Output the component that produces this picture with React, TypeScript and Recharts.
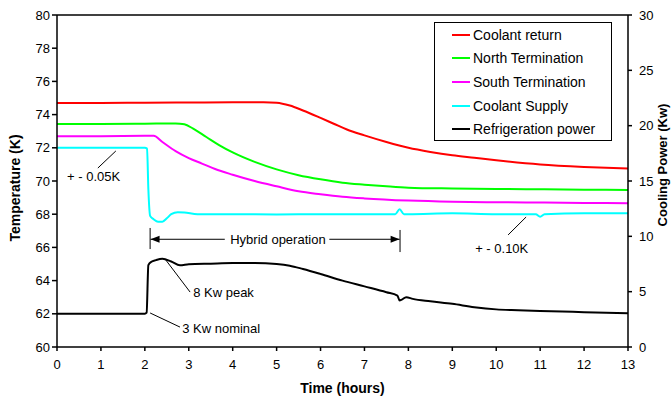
import React from 'react';
import {
  ComposedChart, Line, XAxis, YAxis, Legend, ReferenceLine, ReferenceDot
} from 'recharts';

const FONT = '"Liberation Sans", Arial, Helvetica, sans-serif';

// time axis (hours)
const hourTicks = [0, 1, 2, 3, 4, 5, 6, 7, 8, 9, 10, 11, 12, 13];
const tempTicks = [60, 62, 64, 66, 68, 70, 72, 74, 76, 78, 80];
const powerTicks = [0, 5, 10, 15, 20, 25, 30];

// Coolant return (K)
const returnTime = [0, 1, 2, 3, 4, 4.7, 5.0, 5.3, 5.6, 6.0, 6.3, 6.6, 7.0, 7.5, 8, 8.5, 9, 9.5, 10, 11, 12, 13];
const returnTemp = [74.7, 74.7, 74.72, 74.73, 74.74, 74.75, 74.72, 74.55, 74.25, 73.8, 73.45, 73.1, 72.75, 72.35, 72.0, 71.75, 71.55, 71.4, 71.25, 71.0, 70.85, 70.75];

// North termination (K)
const northTime = [0, 1, 2, 2.7, 2.9, 3.1, 3.4, 3.7, 4.0, 4.5, 5.0, 5.5, 6.0, 6.5, 7.0, 7.5, 8.0, 9, 10, 11, 12, 13];
const northTemp = [73.43, 73.43, 73.45, 73.47, 73.42, 73.15, 72.65, 72.15, 71.72, 71.15, 70.7, 70.35, 70.1, 69.9, 69.78, 69.68, 69.6, 69.55, 69.52, 69.5, 69.48, 69.46];

// South termination (K)
const southTime = [0, 1, 2, 2.2, 2.4, 2.7, 3.0, 3.3, 3.6, 4.0, 4.5, 5.0, 5.5, 6.0, 6.5, 7, 8, 9, 10, 11, 12, 13];
const southTemp = [72.7, 72.7, 72.72, 72.72, 72.35, 71.8, 71.38, 71.05, 70.72, 70.38, 70.0, 69.68, 69.38, 69.2, 69.05, 68.95, 68.82, 68.75, 68.72, 68.7, 68.68, 68.66];

// Coolant supply (K)
const supplyTime = [0, 1, 2.0, 2.05, 2.08, 2.12, 2.2, 2.3, 2.4, 2.5, 2.6, 2.75, 2.9, 3.2, 4, 5, 6, 7, 7.7, 7.8, 7.9, 8.0, 9, 10, 10.9, 11.0, 11.1, 12, 13];
const supplyTemp = [72.0, 72.0, 72.0, 71.95, 69.5, 67.9, 67.7, 67.55, 67.55, 67.75, 68.0, 68.12, 68.1, 68.0, 68.0, 67.98, 68.0, 68.0, 68.0, 68.3, 68.0, 68.0, 68.05, 68.0, 68.0, 67.85, 68.0, 68.05, 68.05];

// Refrigeration power (Kw)
const powerTime = [0, 1, 2.0, 2.04, 2.08, 2.15, 2.25, 2.4, 2.6, 2.8, 3.0, 3.5, 4, 4.5, 5.0, 5.3, 5.6, 6.0, 6.5, 7.0, 7.5, 7.75, 7.8, 7.85, 7.95, 8.1, 8.5, 9, 9.5, 10, 10.5, 11, 11.5, 12, 12.5, 13];
const powerKw = [3, 3, 3, 3.1, 7.4, 7.7, 7.85, 7.98, 7.73, 7.38, 7.47, 7.53, 7.58, 7.58, 7.5, 7.35, 7.05, 6.6, 6.0, 5.48, 4.95, 4.65, 4.2, 4.28, 4.5, 4.35, 4.13, 3.9, 3.6, 3.4, 3.32, 3.25, 3.2, 3.15, 3.1, 3.05];

const seriesNames = ['Coolant return', 'North Termination', 'South Termination', 'Coolant Supply', 'Refrigeration power'];
const seriesColors = ['#ff0000', '#00ff00', '#ff00ff', '#00ffff', '#000000'];

const toPoints = (ts: number[], vs: number[]) => ts.map((t, i) => ({ t, v: vs[i] }));

// annotation shapes
const Leader = (props: any) => (
  <line x1={props.x1} y1={props.y1} x2={props.x2} y2={props.y2} stroke="#000" strokeWidth={1} />
);

const Arrow = (props: any) => {
  const { x1, y1, x2, y2 } = props;
  const dir = x2 > x1 ? 1 : -1;
  return (
    <g>
      <line x1={x1} y1={y1} x2={x2} y2={y2} stroke="#000" strokeWidth={1} />
      <polygon
        points={`${x2},${y2} ${x2 - dir * 9},${y2 - 3.5} ${x2 - dir * 9},${y2 + 3.5}`}
        fill="#000"
      />
    </g>
  );
};

const note = (text: string, anchor: 'start' | 'middle' = 'start') => (props: any) => (
  <text x={props.cx} y={props.cy} textAnchor={anchor} dominantBaseline="central"
    fontFamily={FONT} fontSize={13} fill="#000">{text}</text>
);

const LegendBox = () => (
  <div style={{
    border: '1px solid #000', background: '#fff', width: 176, height: 117,
    fontFamily: FONT, fontSize: 14, color: '#000', boxSizing: 'content-box'
  }}>
    {seriesNames.map((name, i) => (
      <div key={name} style={{ display: 'flex', alignItems: 'center', height: 23.6, marginLeft: 17 }}>
        <span style={{ display: 'inline-block', width: 18, height: 2, background: seriesColors[i], marginRight: 3 }} />
        <span>{name}</span>
      </div>
    ))}
  </div>
);

export default function App() {
  const lines = [
    toPoints(returnTime, returnTemp),
    toPoints(northTime, northTemp),
    toPoints(southTime, southTemp),
    toPoints(supplyTime, supplyTemp),
  ];

  return (
    <div style={{ position: 'absolute', left: 0, top: 0, background: '#fff' }}>
      <ComposedChart width={672} height={397} margin={{ top: 15, right: 0, bottom: 0, left: 0 }}>
        <XAxis
          type="number" dataKey="t" domain={[0, 13]} ticks={hourTicks} interval={0}
          height={50} tickSize={4} tickMargin={9} stroke="#000" strokeWidth={1.5}
          tick={{ fill: '#000', fontSize: 13, fontFamily: FONT }}
          label={{
            content: () => (
              <text x={342.5} y={388} textAnchor="middle" dominantBaseline="central"
                fontFamily={FONT} fontSize={14} fontWeight="bold" fill="#000">Time (hours)</text>
            )
          }}
        />
        <YAxis
          yAxisId="left" domain={[60, 80]} ticks={tempTicks} interval={0} width={57}
          tickSize={5} tickMargin={2} stroke="#000" strokeWidth={1.5}
          tick={{ fill: '#000', fontSize: 13, fontFamily: FONT }}
          label={{
            content: () => (
              <text transform="translate(20,188) rotate(-90)" textAnchor="middle"
                fontFamily={FONT} fontSize={14} fontWeight="bold" fill="#000">Temperature (K)</text>
            )
          }}
        />
        <YAxis
          yAxisId="right" orientation="right" domain={[0, 30]} ticks={powerTicks} interval={0} width={44}
          tickSize={4} tickMargin={7} stroke="#000" strokeWidth={1.5}
          tick={{ fill: '#000', fontSize: 13, fontFamily: FONT }}
          label={{
            content: () => (
              <text transform="translate(667,165) rotate(-90)" textAnchor="middle"
                fontFamily={FONT} fontSize={13} fontWeight="bold" fill="#000">Cooling Power (Kw)</text>
            )
          }}
        />
        <ReferenceLine yAxisId="left" y={80} stroke="#000" strokeWidth={1.5} />

        {lines.map((pts, i) => (
          <Line
            key={seriesNames[i]} data={pts} dataKey="v" yAxisId="left" name={seriesNames[i]}
            type="monotone" stroke={seriesColors[i]} strokeWidth={2} dot={false}
            isAnimationActive={false}
          />
        ))}
        <Line
          data={toPoints(powerTime, powerKw)} dataKey="v" yAxisId="right" name={seriesNames[4]}
          type="monotone" stroke={seriesColors[4]} strokeWidth={2} dot={false}
          isAnimationActive={false}
        />

        {/* annotations */}
        <ReferenceLine yAxisId="left" segment={[{ x: 0.93, y: 70.78 }, { x: 1.34, y: 71.81 }]} shape={Leader} />
        <ReferenceDot yAxisId="left" x={0.23} y={70.25} r={0} shape={note('+ - 0.05K')} />
        <ReferenceLine yAxisId="left" segment={[{ x: 10.27, y: 66.75 }, { x: 10.68, y: 67.83 }]} shape={Leader} />
        <ReferenceDot yAxisId="left" x={9.52} y={65.96} r={0} shape={note('+ - 0.10K')} />
        <ReferenceLine yAxisId="left" segment={[{ x: 2.46, y: 65.3 }, { x: 3.03, y: 63.31 }]} shape={Leader} />
        <ReferenceDot yAxisId="left" x={3.1} y={63.31} r={0} shape={note('8 Kw peak')} />
        <ReferenceLine yAxisId="left" segment={[{ x: 2.12, y: 62.05 }, { x: 2.8, y: 61.2 }]} shape={Leader} />
        <ReferenceDot yAxisId="left" x={2.85} y={61.14} r={0} shape={note('3 Kw nominal')} />

        <ReferenceLine yAxisId="left" segment={[{ x: 2.12, y: 67.17 }, { x: 2.12, y: 65.9 }]} shape={Leader} />
        <ReferenceLine yAxisId="left" segment={[{ x: 7.81, y: 67.05 }, { x: 7.81, y: 65.72 }]} shape={Leader} />
        <ReferenceLine yAxisId="left" segment={[{ x: 3.82, y: 66.49 }, { x: 2.13, y: 66.49 }]} shape={Arrow} />
        <ReferenceLine yAxisId="left" segment={[{ x: 6.2, y: 66.49 }, { x: 7.8, y: 66.49 }]} shape={Arrow} />
        <ReferenceDot yAxisId="left" x={5.03} y={66.49} r={0} shape={note('Hybrid operation', 'middle')} />

        <Legend
          layout="vertical" align="center" verticalAlign="middle"
          wrapperStyle={{ left: 434, top: 22, width: 178 }}
          content={() => <LegendBox />}
        />
      </ComposedChart>
    </div>
  );
}
